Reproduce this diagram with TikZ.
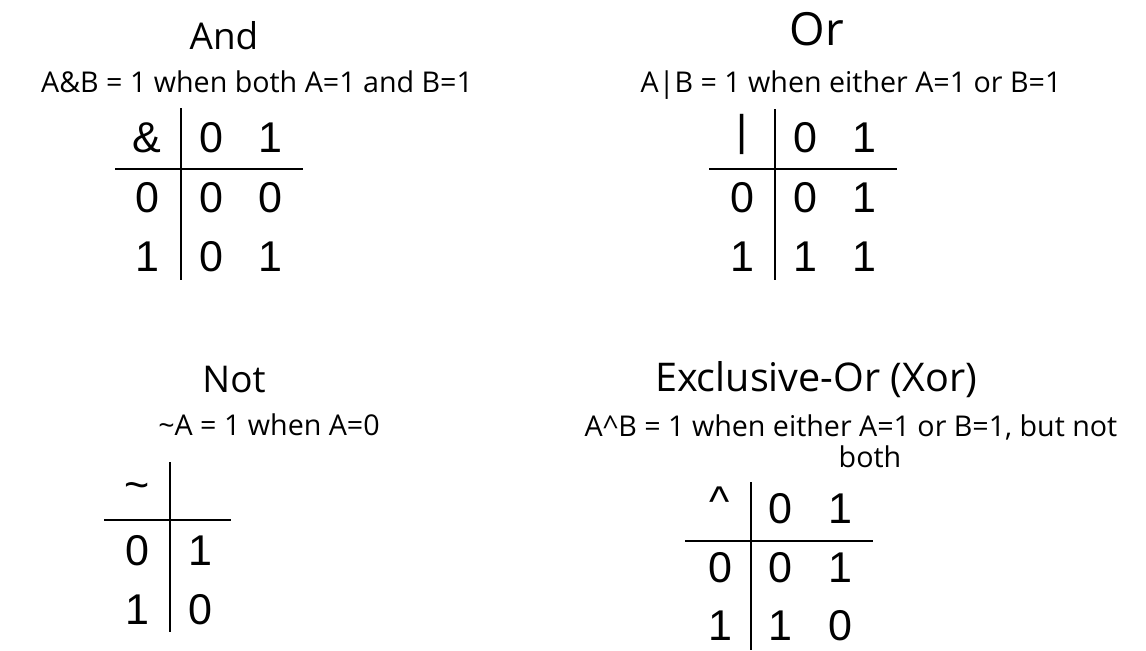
\documentclass[tikz,border=0pt]{standalone}
\usepackage{fontspec}
\setmainfont{Open Sans}
\newfontfamily\cellfont{Liberation Sans}
\usetikzlibrary{positioning}

\begin{document}
\begin{tikzpicture}[x=0.02cm,y=-0.02cm,inner sep=0pt,
  title/.style={anchor=base,font=\fontsize{21}{25}\selectfont},
  rule/.style={anchor=base,font=\fontsize{16.3}{19}\selectfont},
  cell/.style={font=\cellfont\fontsize{24.5}{28}\selectfont},
  bar/.style={line width=1.2pt}]
  \useasboundingbox (0,0) rectangle (1146,650);
  % And
  \node[title] (andT) at (224,49) {And};
  \node[rule] (andR) at (257,92) {A\&B = 1 when both A=1 and B=1};
  \node[cell] (a0) at (147,138) {\&}; \node[cell] (a1) at (211,138) {0}; \node[cell] (a2) at (270,138) {1};
  \node[cell] (a3) at (147,198) {0};  \node[cell] (a4) at (211,198) {0}; \node[cell] (a5) at (270,198) {0};
  \node[cell] (a6) at (147,257) {1};  \node[cell] (a7) at (211,257) {0}; \node[cell] (a8) at (270,257) {1};
  \coordinate (andN) at (181,108); \coordinate (andS) at (181,280);
  \coordinate (andW) at (115,169); \coordinate (andE) at (303,169);
  \draw[bar] (andN) -- (andS) (andW) -- (andE);
  % Or
  \node[title,font=\fontsize{26}{30}\selectfont] (orT) at (817,45) {Or};
  \node[rule] (orR) at (851,92) {A|B = 1 when either A=1 or B=1};
  \node[cell] (o0) at (742,134) {|}; \node[cell] (o1) at (805,138) {0}; \node[cell] (o2) at (864,138) {1};
  \node[cell] (o3) at (742,198) {0}; \node[cell] (o4) at (805,198) {0}; \node[cell] (o5) at (864,198) {1};
  \node[cell] (o6) at (742,257) {1}; \node[cell] (o7) at (805,257) {1}; \node[cell] (o8) at (864,257) {1};
  \coordinate (orN) at (775,109); \coordinate (orS) at (775,280);
  \coordinate (orW) at (709,169); \coordinate (orE) at (897,169);
  \draw[bar] (orN) -- (orS) (orW) -- (orE);
  % Not
  \node[title,font=\fontsize{21}{25}\selectfont] (notT) at (234,392) {Not};
  \node[rule] (notR) at (269,435) {\textasciitilde A = 1 when A=0};
  \node[cell] (n0) at (137,491) {\textasciitilde};
  \node[cell] (n1) at (137,551) {0}; \node[cell] (n2) at (200,551) {1};
  \node[cell] (n3) at (137,610) {1}; \node[cell] (n4) at (200,610) {0};
  \coordinate (notN) at (170,462); \coordinate (notS) at (170,632);
  \coordinate (notW) at (104,520); \coordinate (notE) at (231,520);
  \draw[bar] (notN) -- (notS) (notW) -- (notE);
  % Xor
  \node[title,font=\fontsize{22.5}{27}\selectfont] (xorT) at (816,391) {Exclusive-Or (Xor)};
  \node[rule] (xorR) at (851,436) {A\textasciicircum B = 1 when either A=1 or B=1, but not};
  \node[rule] (xorR2) at (870,467) {both};
  \node[cell] (x0) at (720,502) {\textasciicircum}; \node[cell] (x1) at (780,509) {0}; \node[cell] (x2) at (840,509) {1};
  \node[cell] (x3) at (720,568) {0}; \node[cell] (x4) at (780,568) {0}; \node[cell] (x5) at (840,568) {1};
  \node[cell] (x6) at (720,626) {1}; \node[cell] (x7) at (780,626) {1}; \node[cell] (x8) at (840,626) {0};
  \coordinate (xorN) at (751,482); \coordinate (xorS) at (751,650);
  \coordinate (xorW) at (685,541); \coordinate (xorE) at (873,541);
  \draw[bar] (xorN) -- (xorS) (xorW) -- (xorE);
\end{tikzpicture}
\end{document}
